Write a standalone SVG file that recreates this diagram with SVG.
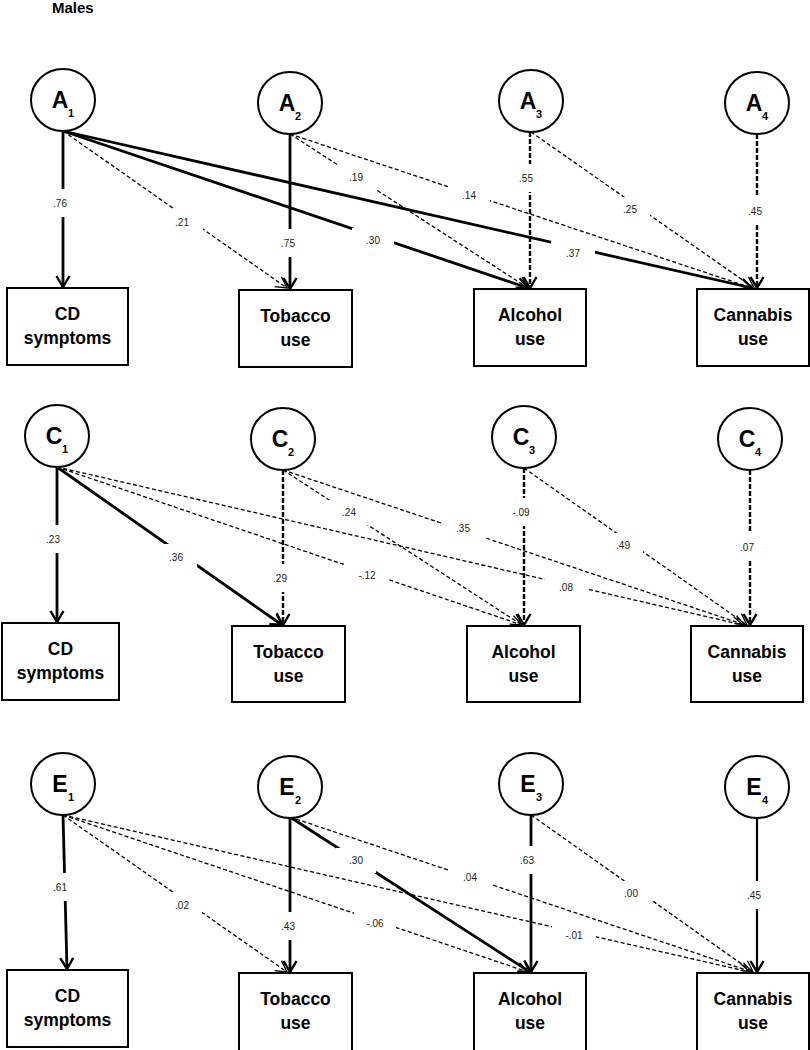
<svg xmlns="http://www.w3.org/2000/svg" width="810" height="1050" viewBox="0 0 810 1050">
<defs>
<style>
.bg{fill:#fff}
.title{font-family:"Liberation Sans",Arial,sans-serif;font-weight:bold;font-size:15px;fill:#000}
.lat ellipse{fill:#fff;stroke:#000;stroke-width:2}
.lat .big{font-family:"Liberation Sans",Arial,sans-serif;font-weight:bold;font-size:23px;fill:#000;text-anchor:middle}
.lat .sub{font-family:"Liberation Sans",Arial,sans-serif;font-weight:bold;font-size:11px;fill:#000}
.box rect{fill:#fff;stroke:#000;stroke-width:2}
.box text{font-family:"Liberation Sans",Arial,sans-serif;font-weight:bold;font-size:17.5px;fill:#000;text-anchor:middle}
.solid{stroke:#000;stroke-width:2.8;fill:none;marker-end:url(#ah)}
.solid2{stroke:#000;stroke-width:2.2;fill:none;marker-end:url(#ah)}
.dash{stroke:#000;stroke-width:1.3;stroke-dasharray:4 2.5;fill:none;marker-end:url(#at)}
.vdash{stroke:#000;stroke-width:2.4;stroke-dasharray:5 2;fill:none;marker-end:url(#ah)}
.lbl rect{fill:#fff}
.lbl text{font-family:"Liberation Sans",Arial,sans-serif;font-size:10px;fill:#222;text-anchor:middle}
</style>
<marker id="ah" markerUnits="userSpaceOnUse" markerWidth="14" markerHeight="16" viewBox="0 0 14 16" refX="12" refY="8" orient="auto">
<path d="M1,1.5 L12,8 L1,14.5" fill="none" stroke="#000" stroke-width="2.4"/>
</marker>
<marker id="at" markerUnits="userSpaceOnUse" markerWidth="14" markerHeight="16" viewBox="0 0 14 16" refX="12" refY="8" orient="auto">
<path d="M1,2 L12,8 L1,14" fill="none" stroke="#000" stroke-width="1.3"/>
</marker>
</defs>
<rect class="bg" x="0" y="0" width="810" height="1050"/>
<text class="title" x="52" y="13">Males</text>

<g id="connectors">
<!-- Panel A -->
<line class="solid" x1="63" y1="131" x2="63" y2="287"/>
<line class="dash" x1="63" y1="131" x2="287" y2="288"/>
<line class="solid" x1="63" y1="131" x2="528" y2="288"/>
<line class="solid" x1="63" y1="131" x2="752" y2="288"/>
<line class="solid" x1="290" y1="134" x2="290" y2="289"/>
<line class="dash" x1="290" y1="134" x2="528" y2="288"/>
<line class="dash" x1="290" y1="134" x2="752" y2="288"/>
<line class="vdash" x1="530" y1="132" x2="530" y2="288"/>
<line class="dash" x1="531" y1="132" x2="754" y2="288"/>
<line class="vdash" x1="757" y1="134" x2="757" y2="288"/>
<!-- Panel C -->
<line class="solid" x1="57" y1="467" x2="57" y2="622"/>
<line class="solid" x1="57" y1="467" x2="282" y2="625"/>
<line class="dash" x1="57" y1="467" x2="522" y2="625"/>
<line class="dash" x1="57" y1="467" x2="743" y2="625"/>
<line class="vdash" x1="283" y1="470" x2="283" y2="625"/>
<line class="dash" x1="283" y1="470" x2="522" y2="625"/>
<line class="dash" x1="283" y1="470" x2="745" y2="625"/>
<line class="vdash" x1="524" y1="468" x2="524" y2="625"/>
<line class="dash" x1="524" y1="468" x2="747" y2="625"/>
<line class="vdash" x1="750" y1="470" x2="750" y2="625"/>
<!-- Panel E -->
<line class="solid" x1="63" y1="815" x2="67" y2="969"/>
<line class="dash" x1="63" y1="815" x2="287" y2="972"/>
<line class="dash" x1="63" y1="815" x2="528" y2="972"/>
<line class="dash" x1="63" y1="815" x2="750" y2="972"/>
<line class="solid" x1="290" y1="817" x2="290" y2="972"/>
<line class="solid" x1="290" y1="817" x2="530" y2="972"/>
<line class="dash" x1="290" y1="817" x2="752" y2="972"/>
<line class="solid" x1="531" y1="815" x2="531" y2="972"/>
<line class="dash" x1="531" y1="815" x2="753" y2="972"/>
<line class="solid2" x1="757" y1="817" x2="757" y2="972"/>

<g class="lbl">
<rect x="41" y="189" width="38" height="28"/><text x="60" y="207">.76</text>
<rect x="163" y="209" width="40" height="26"/><text x="182" y="226">.21</text>
<rect x="352" y="228" width="42" height="25"/><text x="373" y="244">.30</text>
<rect x="551" y="241" width="44" height="25"/><text x="573" y="257">.37</text>
<rect x="270" y="229" width="38" height="28"/><text x="288" y="247">.75</text>
<rect x="337" y="165" width="40" height="25"/><text x="356" y="181">.19</text>
<rect x="448" y="183" width="42" height="25"/><text x="469" y="199">.14</text>
<rect x="508" y="164" width="38" height="28"/><text x="526" y="182">.55</text>
<rect x="610" y="197" width="40" height="25"/><text x="630" y="213">.25</text>
<rect x="737" y="197" width="38" height="28"/><text x="755" y="215">.45</text>

<rect x="34" y="525" width="38" height="28"/><text x="53" y="543">.23</text>
<rect x="155" y="544" width="42" height="26"/><text x="176" y="561">.36</text>
<rect x="346" y="563" width="42" height="25"/><text x="367" y="579">-.12</text>
<rect x="545" y="575" width="44" height="25"/><text x="566" y="591">.08</text>
<rect x="262" y="564" width="38" height="28"/><text x="280" y="582">.29</text>
<rect x="329" y="500" width="40" height="25"/><text x="349" y="516">.24</text>
<rect x="442" y="516" width="42" height="25"/><text x="463" y="532">.35</text>
<rect x="503" y="498" width="38" height="28"/><text x="521" y="516">-.09</text>
<rect x="603" y="533" width="40" height="25"/><text x="623" y="549">.49</text>
<rect x="729" y="533" width="38" height="28"/><text x="747" y="551">.07</text>

<rect x="41" y="873" width="38" height="28"/><text x="60" y="891">.61</text>
<rect x="162" y="892" width="40" height="26"/><text x="182" y="909">.02</text>
<rect x="354" y="911" width="42" height="25"/><text x="375" y="927">-.06</text>
<rect x="552" y="923" width="44" height="25"/><text x="574" y="939">-.01</text>
<rect x="270" y="912" width="38" height="28"/><text x="288" y="930">.43</text>
<rect x="336" y="848" width="40" height="25"/><text x="356" y="864">.30</text>
<rect x="449" y="865" width="42" height="25"/><text x="470" y="881">.04</text>
<rect x="509" y="846" width="38" height="28"/><text x="527" y="864">.63</text>
<rect x="611" y="881" width="40" height="25"/><text x="631" y="897">.00</text>
<rect x="736" y="881" width="38" height="28"/><text x="754" y="899">.45</text>
</g>
</g>

<!-- Latent nodes -->
<g id="A1" class="lat"><ellipse cx="63" cy="100" rx="32" ry="31"/><text class="big" x="60" y="108">A</text><text class="sub" x="68" y="117">1</text></g>
<g id="A2" class="lat"><ellipse cx="290" cy="103" rx="32" ry="31"/><text class="big" x="287" y="111">A</text><text class="sub" x="295" y="120">2</text></g>
<g id="A3" class="lat"><ellipse cx="531" cy="101" rx="32" ry="31"/><text class="big" x="528" y="109">A</text><text class="sub" x="536" y="118">3</text></g>
<g id="A4" class="lat"><ellipse cx="757" cy="103" rx="32" ry="31"/><text class="big" x="754" y="111">A</text><text class="sub" x="762" y="120">4</text></g>

<g id="C1" class="lat"><ellipse cx="57" cy="436" rx="32" ry="31"/><text class="big" x="54" y="444">C</text><text class="sub" x="62" y="453">1</text></g>
<g id="C2" class="lat"><ellipse cx="283" cy="439" rx="32" ry="31"/><text class="big" x="280" y="447">C</text><text class="sub" x="288" y="456">2</text></g>
<g id="C3" class="lat"><ellipse cx="524" cy="437" rx="32" ry="31"/><text class="big" x="521" y="445">C</text><text class="sub" x="529" y="454">3</text></g>
<g id="C4" class="lat"><ellipse cx="750" cy="439" rx="32" ry="31"/><text class="big" x="747" y="447">C</text><text class="sub" x="755" y="456">4</text></g>

<g id="E1" class="lat"><ellipse cx="63" cy="784" rx="32" ry="31"/><text class="big" x="60" y="792">E</text><text class="sub" x="68" y="801">1</text></g>
<g id="E2" class="lat"><ellipse cx="290" cy="787" rx="32" ry="31"/><text class="big" x="287" y="795">E</text><text class="sub" x="295" y="804">2</text></g>
<g id="E3" class="lat"><ellipse cx="531" cy="784" rx="32" ry="31"/><text class="big" x="528" y="792">E</text><text class="sub" x="536" y="801">3</text></g>
<g id="E4" class="lat"><ellipse cx="757" cy="787" rx="32" ry="31"/><text class="big" x="754" y="795">E</text><text class="sub" x="762" y="804">4</text></g>

<!-- Observed nodes -->
<g id="A_CD" class="box"><rect x="7" y="288" width="121" height="77"/><text x="67.5" y="320">CD</text><text x="67.5" y="343.5">symptoms</text></g>
<g id="A_Tob" class="box"><rect x="239" y="290" width="113" height="77"/><text x="295.5" y="322">Tobacco</text><text x="295.5" y="345.5">use</text></g>
<g id="A_Alc" class="box"><rect x="474" y="289" width="112" height="77"/><text x="530" y="321">Alcohol</text><text x="530" y="344.5">use</text></g>
<g id="A_Can" class="box"><rect x="697" y="289" width="112" height="77"/><text x="753" y="321">Cannabis</text><text x="753" y="344.5">use</text></g>

<g id="C_CD" class="box"><rect x="2" y="623" width="117" height="77"/><text x="60.5" y="655">CD</text><text x="60.5" y="678.5">symptoms</text></g>
<g id="C_Tob" class="box"><rect x="232" y="626" width="113" height="76"/><text x="288.5" y="658">Tobacco</text><text x="288.5" y="681.5">use</text></g>
<g id="C_Alc" class="box"><rect x="467" y="626" width="113" height="76"/><text x="523.5" y="658">Alcohol</text><text x="523.5" y="681.5">use</text></g>
<g id="C_Can" class="box"><rect x="691" y="626" width="112" height="76"/><text x="747" y="658">Cannabis</text><text x="747" y="681.5">use</text></g>

<g id="E_CD" class="box"><rect x="7" y="970" width="121" height="77"/><text x="67.5" y="1002">CD</text><text x="67.5" y="1025.5">symptoms</text></g>
<g id="E_Tob" class="box"><rect x="239" y="973" width="113" height="78"/><text x="295.5" y="1005">Tobacco</text><text x="295.5" y="1028.5">use</text></g>
<g id="E_Alc" class="box"><rect x="474" y="973" width="112" height="78"/><text x="530" y="1005">Alcohol</text><text x="530" y="1028.5">use</text></g>
<g id="E_Can" class="box"><rect x="697" y="973" width="112" height="78"/><text x="753" y="1005">Cannabis</text><text x="753" y="1028.5">use</text></g>
</svg>
